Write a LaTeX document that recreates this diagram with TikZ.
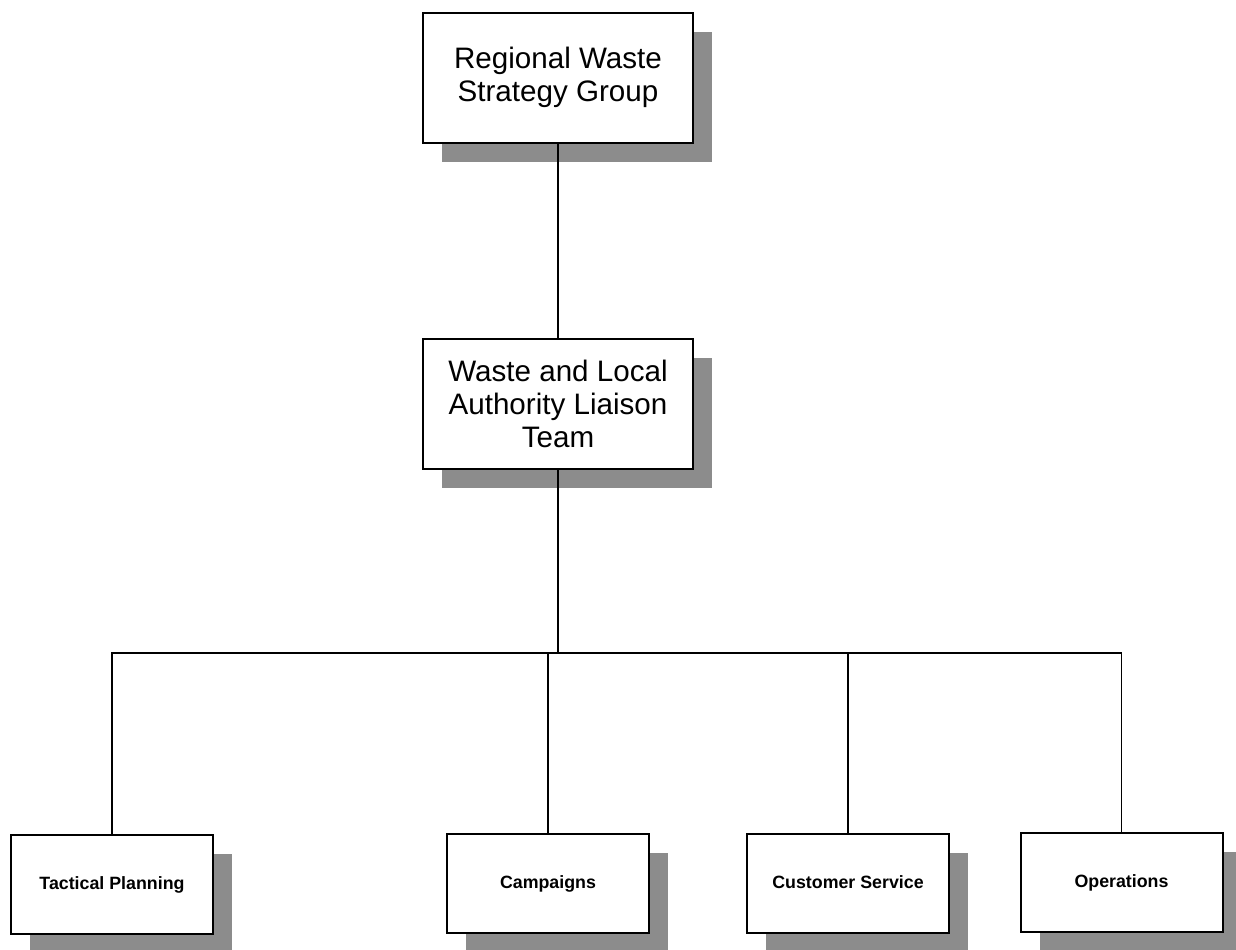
\documentclass[tikz,border=0pt]{standalone}
\usepackage{fontspec}
\setmainfont{Liberation Sans}
\usetikzlibrary{shadows}

\tikzset{
  unit/.style={draw, line width=1pt, fill=white, align=center, inner sep=0pt,
    general shadow={shadow xshift=9.5pt, shadow yshift=-9.5pt, fill=black!45}},
  bigunit/.style={unit, minimum width=135pt, minimum height=65pt,
    font=\fontsize{14.8}{16.5}\selectfont},
  smallunit/.style={unit, minimum width=101pt, minimum height=49.5pt,
    text height=6.5pt, text depth=1.8pt,
    font=\fontsize{8.9}{10}\selectfont\bfseries},
  link/.style={line width=0.7pt}
}

\begin{document}
\begin{tikzpicture}[x=0.5pt, y=-0.5pt]
    \useasboundingbox (0,0) rectangle (1236,949);
    % upper levels
    \node[bigunit] (group) at (558,77.5) {Regional Waste\\Strategy Group};
    \node[bigunit] (team) at (558,403.5) {Waste and Local\\Authority Liaison\\Team};
    % teams
    \node[smallunit] (tactical) at (112,884.5) {Tactical Planning};
    \node[smallunit] (campaigns) at (548,883.5) {Campaigns};
    \node[smallunit] (customer) at (848,883.5) {Customer Service};
    \node[smallunit] (operations) at (1121.5,882.5) {Operations};
    % connectors
    \coordinate (bus) at (558,653);
    \draw[link] (group.south) -- (team.north);
    \draw[link] (team.south) -- (team.south |- bus);
    \draw[link] (tactical.north) -- (tactical.north |- bus)
        -- (operations.north |- bus) -- (operations.north);
    \foreach \n in {campaigns, customer}
        \draw[link] (\n.north) -- (\n.north |- bus);
\end{tikzpicture}
\end{document}
